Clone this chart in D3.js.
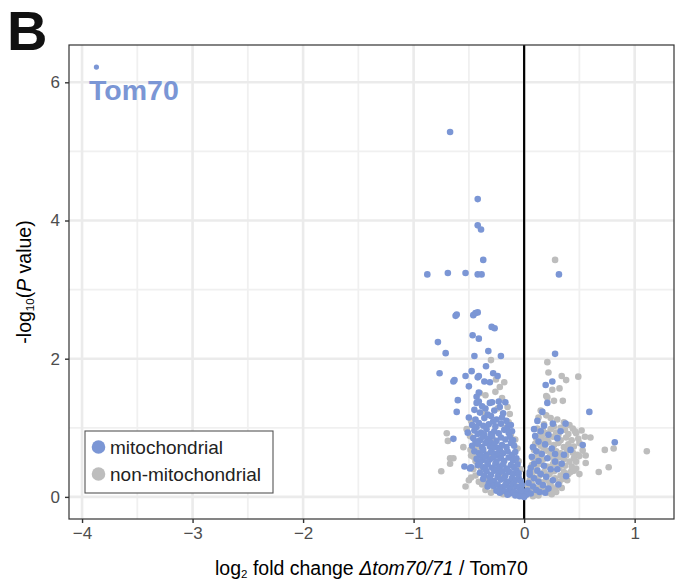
<!DOCTYPE html>
<html>
<head>
<meta charset="utf-8">
<script src="https://cdn.jsdelivr.net/npm/d3@7"></script>
<style>
  html, body { margin: 0; padding: 0; background: #fff; }
  svg { display: block; font-family: "Liberation Sans", Arial, Helvetica, sans-serif; }
</style>
</head>
<body>
<svg id="chart" width="675" height="582"></svg>
<script>
// ---------- data ----------
const xTicks = [-4, -3, -2, -1, 0, 1];
const yTicks = [0, 2, 4, 6];
const seriesNames = ["mitochondrial", "non-mitochondrial"];
const seriesColors = ["#7b96d5", "#bdbdbd"];
const highlightLabel = "Tom70";
const highlightPoint = [-3.87, 6.22];

// non-mitochondrial proteins [log2 FC, -log10 P]
const nonMitoPoints = [
  [0.28,3.43],[-0.30,1.98],[-0.255,1.70],[-0.18,1.66],[-0.22,1.59],[-0.70,0.92],[-0.69,0.81],
  [-0.55,0.72],[-0.67,0.56],[-0.64,0.56],[-0.67,0.48],[-0.75,0.37],[-0.50,0.24],[-0.485,0.68],[-0.46,0.58],
  [0.21,1.95],[0.22,1.80],[0.34,1.75],[0.38,1.69],[0.49,1.74],[0.255,1.55],[0.32,1.57],[0.20,1.46],
  [0.21,1.44],[0.27,1.39],[0.35,1.39],[0.52,0.96],[0.60,0.86],[0.55,0.87],[0.47,0.92],[0.73,0.68],
  [0.81,0.70],[1.11,0.66],[0.557,0.60],[0.557,0.49],[0.47,0.51],[0.765,0.43],[0.675,0.36],[0.50,0.33],[0.42,0.36],
  [-0.40,1.50],[-0.35,1.47],[-0.26,1.52],[-0.20,1.43],[-0.15,1.30],[-0.13,1.20],[-0.24,1.28],[-0.48,1.10],
  [-0.14,1.08],[-0.52,0.98],[-0.12,0.90],[-0.49,0.88],[-0.48,0.60],[-0.44,0.52],[-0.46,0.40],[-0.44,0.31],
  [-0.41,0.22],[-0.38,0.18],[-0.35,0.10],[-0.30,0.06],[-0.27,0.12],[-0.34,0.23],[-0.39,0.42],[-0.42,0.70],
  [-0.08,0.83],[-0.06,0.70],[-0.05,0.52],[-0.03,0.40],[-0.19,0.04],[-0.11,0.14],[-0.09,0.20],[-0.22,0.31],
  [-0.32,0.62],[-0.28,0.83],[-0.17,1.00],[-0.36,1.22],[-0.53,0.15],[-0.48,0.28],
  [0.15,1.25],[0.20,1.18],[0.13,1.15],[0.24,1.14],[0.30,1.12],[0.36,1.08],[0.18,1.05],[0.27,1.02],[0.41,1.04],[0.44,0.99],[0.33,1.00],
  [0.12,0.99],[0.17,0.96],[0.24,0.98],[0.29,0.93],[0.37,0.97],[0.40,0.91],[0.20,0.92],[0.14,0.90],[0.31,0.90],[0.46,0.95],
  [0.11,0.85],[0.16,0.88],[0.21,0.83],[0.26,0.87],[0.33,0.82],[0.38,0.86],[0.43,0.82],[0.18,0.81],[0.49,0.84],
  [0.10,0.77],[0.15,0.74],[0.22,0.79],[0.27,0.75],[0.31,0.78],[0.36,0.72],[0.40,0.76],[0.45,0.73],[0.50,0.78],[0.18,0.71],
  [0.09,0.68],[0.14,0.64],[0.20,0.67],[0.24,0.62],[0.29,0.66],[0.33,0.63],[0.39,0.68],[0.44,0.64],[0.48,0.61],[0.53,0.67],
  [0.08,0.56],[0.12,0.59],[0.17,0.54],[0.23,0.58],[0.27,0.53],[0.31,0.57],[0.36,0.55],[0.41,0.51],[0.45,0.56],[0.50,0.59],[0.38,0.60],
  [0.07,0.46],[0.11,0.43],[0.15,0.48],[0.21,0.44],[0.26,0.47],[0.32,0.42],[0.37,0.45],[0.43,0.44],[0.47,0.41],[0.29,0.49],
  [0.06,0.35],[0.10,0.38],[0.14,0.31],[0.18,0.36],[0.23,0.33],[0.27,0.37],[0.33,0.31],[0.36,0.36],[0.40,0.33],[0.45,0.38],
  [0.05,0.24],[0.08,0.29],[0.12,0.26],[0.16,0.21],[0.20,0.25],[0.23,0.20],[0.28,0.27],[0.32,0.22],[0.35,0.26],[0.39,0.24],
  [0.04,0.14],[0.07,0.19],[0.10,0.13],[0.15,0.16],[0.19,0.12],[0.24,0.17],[0.27,0.11],[0.30,0.15],[0.34,0.13],
  [0.02,0.05],[0.05,0.08],[0.09,0.04],[0.13,0.02],[0.16,0.09],[0.21,0.06],[0.25,0.04],[0.08,0.01],[0.29,0.07]
];

// mitochondrial proteins [log2 FC, -log10 P]
const mitoPoints = [
  [-0.67,5.28],[-0.42,4.31],[-0.42,3.93],[-0.39,3.87],[-0.37,3.43],
  [-0.876,3.22],[-0.69,3.24],[-0.53,3.24],[-0.42,3.22],[-0.385,3.22],[0.315,3.22],
  [-0.62,2.62],[-0.61,2.64],[-0.46,2.63],[-0.44,2.66],[-0.42,2.67],
  [-0.294,2.46],[-0.267,2.44],[-0.466,2.34],[-0.41,2.29],[-0.78,2.24],[-0.71,2.08],[-0.324,2.11],
  [-0.45,2.04],[-0.21,2.04],[-0.345,1.89],[-0.765,1.79],[-0.475,1.82],[-0.53,1.75],[-0.64,1.67],[-0.63,1.69],
  [-0.41,1.75],[-0.42,1.73],[-0.28,1.79],[-0.24,1.75],[-0.50,1.60],[-0.36,1.67],[-0.31,1.66],
  [-0.60,1.40],[-0.41,1.51],[-0.43,1.45],[-0.43,1.36],[-0.41,1.38],[-0.31,1.36],[-0.29,1.37],[-0.23,1.38],[-0.17,1.37],
  [-0.61,1.23],[-0.40,1.22],[-0.50,1.15],[-0.64,0.84],[-0.51,0.93],[-0.54,0.44],[-0.49,0.41],[-0.48,0.43],[-0.32,0.20],
  [0.28,2.07],[0.255,1.67],[0.195,1.62],[0.21,1.36],[0.59,1.23],[0.165,1.23],[0.18,1.03],[0.26,1.06],[0.375,1.06],
  [0.53,0.75],[0.82,0.79],[0.42,0.68],[0.36,0.61],[0.28,0.51],[0.30,0.40],[0.38,0.30],[0.31,0.18],
  [-0.35,1.28],[-0.27,1.25],[-0.22,1.30],[-0.19,1.21],[-0.33,1.19],[-0.45,1.26],[-0.38,1.31],
  [-0.44,1.12],[-0.36,1.14],[-0.30,1.17],[-0.25,1.12],[-0.20,1.15],[-0.16,1.10],[-0.28,1.09],
  [-0.47,1.04],[-0.41,1.07],[-0.37,1.03],[-0.32,1.05],[-0.26,1.02],[-0.21,1.06],[-0.15,1.01],[-0.12,1.04],[-0.43,1.01],
  [-0.45,0.96],[-0.39,0.93],[-0.34,0.98],[-0.30,0.91],[-0.27,0.95],[-0.23,0.92],[-0.18,0.97],[-0.14,0.93],[-0.11,0.95],[-0.36,0.90],[-0.42,0.91],
  [-0.46,0.85],[-0.40,0.82],[-0.37,0.87],[-0.33,0.84],[-0.29,0.88],[-0.25,0.81],[-0.21,0.86],[-0.17,0.83],[-0.13,0.87],[-0.10,0.82],[-0.31,0.80],[-0.44,0.80],
  [-0.47,0.74],[-0.42,0.77],[-0.38,0.72],[-0.35,0.78],[-0.31,0.73],[-0.27,0.76],[-0.24,0.71],[-0.20,0.75],[-0.16,0.72],[-0.12,0.78],[-0.09,0.74],[-0.29,0.70],
  [-0.45,0.66],[-0.41,0.63],[-0.37,0.68],[-0.34,0.61],[-0.30,0.65],[-0.26,0.62],[-0.22,0.68],[-0.19,0.63],[-0.15,0.66],[-0.11,0.61],[-0.08,0.65],[-0.39,0.60],[-0.24,0.60],
  [-0.43,0.55],[-0.38,0.53],[-0.35,0.58],[-0.31,0.54],[-0.28,0.57],[-0.25,0.51],[-0.21,0.56],[-0.18,0.52],[-0.14,0.57],[-0.10,0.53],[-0.07,0.56],[-0.33,0.50],[-0.40,0.50],
  [-0.42,0.46],[-0.37,0.43],[-0.33,0.47],[-0.29,0.42],[-0.26,0.48],[-0.22,0.44],[-0.19,0.47],[-0.16,0.41],[-0.12,0.46],[-0.09,0.43],[-0.06,0.47],[-0.35,0.40],[-0.24,0.40],
  [-0.40,0.35],[-0.34,0.37],[-0.30,0.32],[-0.27,0.38],[-0.23,0.34],[-0.20,0.37],[-0.17,0.31],[-0.13,0.36],[-0.10,0.33],[-0.07,0.38],[-0.05,0.34],[-0.36,0.31],[-0.15,0.39],
  [-0.37,0.26],[-0.31,0.28],[-0.27,0.23],[-0.24,0.29],[-0.21,0.25],[-0.18,0.27],[-0.14,0.22],[-0.11,0.27],[-0.08,0.24],[-0.05,0.28],[-0.03,0.23],[-0.29,0.21],[-0.16,0.20],
  [-0.28,0.16],[-0.24,0.18],[-0.20,0.14],[-0.17,0.17],[-0.13,0.13],[-0.10,0.18],[-0.07,0.15],[-0.04,0.12],[-0.02,0.17],[-0.22,0.11],[-0.12,0.10],[-0.33,0.15],
  [-0.22,0.06],[-0.17,0.08],[-0.13,0.05],[-0.09,0.07],[-0.06,0.04],[-0.03,0.06],[-0.01,0.02],[-0.15,0.03],[-0.08,0.02],[-0.04,0.01],[-0.02,0.09],[-0.25,0.09],
  [0.12,1.10],[0.15,0.95],[0.22,0.90],[0.10,0.88],[0.30,0.85],[0.13,0.80],[0.19,0.76],[0.08,0.72],[0.25,0.70],[0.11,0.66],
  [0.16,0.62],[0.07,0.58],[0.21,0.56],[0.13,0.52],[0.09,0.48],[0.18,0.45],[0.06,0.42],[0.24,0.40],[0.12,0.38],[0.15,0.33],
  [0.05,0.32],[0.20,0.29],[0.09,0.27],[0.26,0.24],[0.13,0.22],[0.04,0.20],[0.17,0.17],[0.08,0.15],[0.11,0.10],[0.03,0.09],
  [0.06,0.05],[0.02,0.03],[0.14,0.07],[0.22,0.12],[0.34,0.48],[0.28,0.62],[0.33,0.95],[0.09,0.98],[0.05,0.36],[0.19,0.06],
  [0.00,0.00]
];

// ---------- layout ----------
const svg = d3.select("#chart");
const P = { left: 69, right: 674, top: 45, bottom: 519 };
const x = d3.scaleLinear().domain([-4.118, 1.356]).range([P.left, P.right]);
const y = d3.scaleLinear().domain([-0.32, 6.54]).range([P.bottom, P.top]);

const plot = svg.append("g");
plot.append("rect").attr("x", P.left).attr("y", P.top)
  .attr("width", P.right - P.left).attr("height", P.bottom - P.top).attr("fill", "#fff");

// minor gridlines
const xMinor = d3.range(-3.5, 1.01, 1);
const yMinor = [1, 3, 5];
plot.selectAll(".xminor").data(xMinor).join("line")
  .attr("x1", d => x(d)).attr("x2", d => x(d)).attr("y1", P.top).attr("y2", P.bottom)
  .attr("stroke", "#f0f0f0").attr("stroke-width", 1.8);
plot.selectAll(".yminor").data(yMinor).join("line")
  .attr("x1", P.left).attr("x2", P.right).attr("y1", d => y(d)).attr("y2", d => y(d))
  .attr("stroke", "#f0f0f0").attr("stroke-width", 1.8);
// major gridlines
plot.selectAll(".xmajor").data(xTicks).join("line")
  .attr("x1", d => x(d)).attr("x2", d => x(d)).attr("y1", P.top).attr("y2", P.bottom)
  .attr("stroke", "#ebebeb").attr("stroke-width", 2.6);
plot.selectAll(".ymajor").data(yTicks).join("line")
  .attr("x1", P.left).attr("x2", P.right).attr("y1", d => y(d)).attr("y2", d => y(d))
  .attr("stroke", "#ebebeb").attr("stroke-width", 2.6);

// zero line
plot.append("line").attr("x1", x(0)).attr("x2", x(0)).attr("y1", P.top).attr("y2", P.bottom)
  .attr("stroke", "#000").attr("stroke-width", 2.2);

// points
const R = 3.3;
plot.selectAll(".nm").data(nonMitoPoints).join("circle")
  .attr("cx", d => x(d[0])).attr("cy", d => y(d[1])).attr("r", R).attr("fill", seriesColors[1]);
plot.selectAll(".m").data(mitoPoints).join("circle")
  .attr("cx", d => x(d[0])).attr("cy", d => y(d[1])).attr("r", R).attr("fill", seriesColors[0]);
plot.append("circle").datum(highlightPoint)
  .attr("cx", d => x(d[0])).attr("cy", d => y(d[1])).attr("r", 2.6).attr("fill", seriesColors[0]);

// highlight label
svg.append("text").attr("x", 89).attr("y", 100)
  .attr("font-size", 28.5).attr("font-weight", "bold").attr("fill", seriesColors[0])
  .text(highlightLabel);

// panel border
svg.append("rect").attr("x", P.left).attr("y", P.top)
  .attr("width", P.right - P.left).attr("height", P.bottom - P.top)
  .attr("fill", "none").attr("stroke", "#333").attr("stroke-width", 1.2);

// axes
const fmt = d => (d < 0 ? "\u2212" + Math.abs(d) : String(d));
const xAxis = svg.append("g").attr("transform", `translate(0,${P.bottom})`)
  .call(d3.axisBottom(x).tickValues(xTicks).tickFormat(fmt).tickSize(4).tickPadding(4));
const yAxis = svg.append("g").attr("transform", `translate(${P.left},0)`)
  .call(d3.axisLeft(y).tickValues(yTicks).tickFormat(fmt).tickSize(4).tickPadding(5));
[xAxis, yAxis].forEach(a => {
  a.select(".domain").remove();
  a.selectAll(".tick line").attr("stroke", "#333").attr("stroke-width", 1.4);
  a.selectAll(".tick text").attr("fill", "#4d4d4d").attr("font-size", 17)
    .attr("font-family", "'Liberation Sans', Arial, sans-serif");
});

// axis titles
const xt = svg.append("text").attr("x", (P.left + P.right) / 2).attr("y", 575)
  .attr("text-anchor", "middle").attr("font-size", 19.5).attr("fill", "#000");
xt.append("tspan").text("log");
xt.append("tspan").attr("font-size", 11.5).attr("dy", 3).text("2");
xt.append("tspan").attr("dy", -3).text(" fold change ");
xt.append("tspan").attr("font-style", "italic").text("\u0394tom70/71");
xt.append("tspan").text(" / Tom70");

const yt = svg.append("text").attr("transform", `translate(31,${(P.top + P.bottom) / 2}) rotate(-90)`)
  .attr("text-anchor", "middle").attr("font-size", 19.5).attr("fill", "#000");
yt.append("tspan").text("-log");
yt.append("tspan").attr("font-size", 11.5).attr("dy", 3).text("10");
yt.append("tspan").attr("dy", -3).text("(");
yt.append("tspan").attr("font-style", "italic").text("P");
yt.append("tspan").text(" value)");

// panel tag
svg.append("text").attr("x", 7).attr("y", 50).attr("font-size", 56)
  .attr("font-weight", "bold").attr("fill", "#111").text("B");

// legend
const lg = svg.append("g");
lg.append("rect").attr("x", 85).attr("y", 431).attr("width", 188).attr("height", 62)
  .attr("fill", "#fff").attr("stroke", "#555").attr("stroke-width", 1.1);
const items = lg.selectAll(".it").data(seriesNames).join("g")
  .attr("transform", (d, i) => `translate(0,${447 + i * 27})`);
items.append("circle").attr("cx", 98.5).attr("cy", 0).attr("r", 6.8)
  .attr("fill", (d, i) => seriesColors[i]);
items.append("text").attr("x", 110).attr("y", 0).attr("dy", "0.35em")
  .attr("font-size", 19).attr("fill", "#222").text(d => d);
</script>
</body>
</html>
